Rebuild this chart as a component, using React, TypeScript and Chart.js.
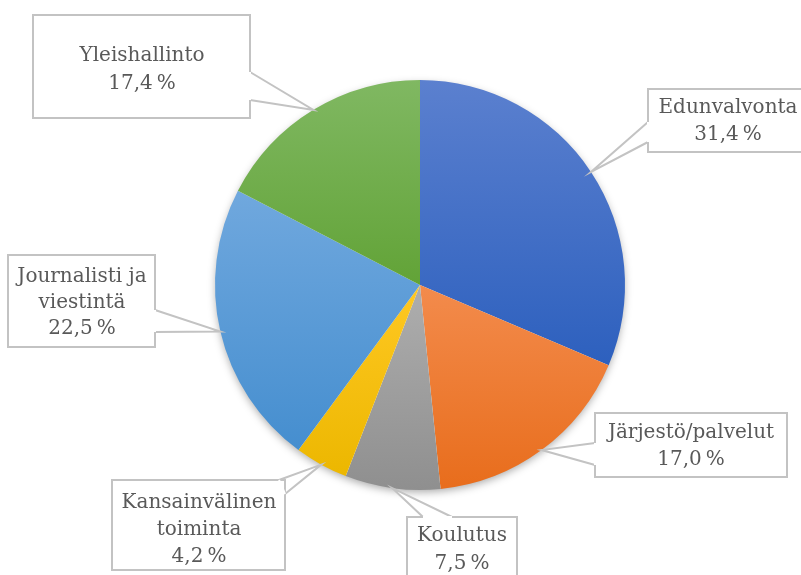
import React, { useEffect, useRef } from "react";
import { Chart, registerables } from "chart.js";

Chart.register(...registerables);

const categories = [
  "Edunvalvonta",
  "Järjestö/palvelut",
  "Koulutus",
  "Kansainvälinen toiminta",
  "Journalisti ja viestintä",
  "Yleishallinto",
];
const values = [31.4, 17.0, 7.5, 4.2, 22.5, 17.4];
const nameLines = [
  ["Edunvalvonta"],
  ["Järjestö/palvelut"],
  ["Koulutus"],
  ["Kansainvälinen", "toiminta"],
  ["Journalisti ja", "viestintä"],
  ["Yleishallinto"],
];
const topColors = ["#5B80CF", "#F38B4C", "#AEAEAE", "#FFC823", "#70A8DE", "#80B862"];
const bottomColors = ["#2D60BE", "#E86D1C", "#8F8F8F", "#ECB700", "#458ECF", "#62A337"];

// callout box layout (positions only)
const callouts = [
  { x: 648, y: 89, w: 165, h: 63, b1: [648, 122], b2: [648, 142], tx: 728, ty: 108, lh: 27 },
  { x: 595, y: 413, w: 192, h: 64, b1: [595, 443], b2: [595, 465], tx: 691, ty: 433, lh: 27 },
  { x: 407, y: 517, w: 110, h: 70, b1: [423, 517], b2: [452, 517], tx: 462, ty: 536, lh: 28 },
  { x: 112, y: 480, w: 173, h: 90, b1: [279, 480], b2: [285, 494], tx: 199, ty: 503, lh: 27 },
  { x: 8, y: 255, w: 147, h: 92, b1: [155, 310], b2: [155, 332], tx: 82, ty: 277, lh: 26 },
  { x: 33, y: 15, w: 217, h: 103, b1: [250, 72], b2: [250, 100], tx: 142, ty: 56, lh: 28 },
];

const fmt = (v: number) => v.toFixed(1).replace(".", ",") + "\u202F%";

function sliceGradient(c: any) {
  const i = c.dataIndex;
  if (i === undefined) return topColors[0];
  const chart = c.chart;
  const area = chart.chartArea;
  if (!area) return topColors[i];
  const cx = (area.left + area.right) / 2;
  const cy = (area.top + area.bottom) / 2;
  const r = Math.min(area.width, area.height) / 2;
  const total = values.reduce((a, b) => a + b, 0);
  let cum = 0;
  for (let k = 0; k < i; k++) cum += values[k];
  const a0 = -Math.PI / 2 + (cum / total) * 2 * Math.PI;
  const a1 = a0 + (values[i] / total) * 2 * Math.PI;
  let ymin = cy, ymax = cy;
  const steps = 60;
  for (let s = 0; s <= steps; s++) {
    const a = a0 + ((a1 - a0) * s) / steps;
    const y = cy + r * Math.sin(a);
    ymin = Math.min(ymin, y);
    ymax = Math.max(ymax, y);
  }
  const g = chart.ctx.createLinearGradient(0, ymin, 0, ymax);
  g.addColorStop(0, topColors[i]);
  g.addColorStop(1, bottomColors[i]);
  return g;
}

const shadowPlugin = {
  id: "pieShadow",
  beforeDatasetsDraw(chart: any) {
    const meta = chart.getDatasetMeta(0);
    const arc = meta.data[0];
    if (!arc) return;
    const ctx = chart.ctx;
    ctx.save();
    ctx.shadowColor = "rgba(0,0,0,0.35)";
    ctx.shadowBlur = 9;
    ctx.shadowOffsetY = 3;
    ctx.beginPath();
    ctx.arc(arc.x, arc.y, arc.outerRadius - 1, 0, Math.PI * 2);
    ctx.fillStyle = "#ffffff";
    ctx.fill();
    ctx.restore();
  },
};

const calloutPlugin = {
  id: "callouts",
  afterDatasetsDraw(chart: any) {
    const meta = chart.getDatasetMeta(0);
    const ctx = chart.ctx;
    meta.data.forEach((arc: any, i: number) => {
      const c = callouts[i];
      const mid = (arc.startAngle + arc.endAngle) / 2;
      const tipX = arc.x + Math.cos(mid) * arc.outerRadius;
      const tipY = arc.y + Math.sin(mid) * arc.outerRadius;
      ctx.save();
      ctx.fillStyle = "#ffffff";
      ctx.fillRect(c.x, c.y, c.w, c.h);
      ctx.beginPath();
      ctx.moveTo(c.b1[0], c.b1[1]);
      ctx.lineTo(tipX, tipY);
      ctx.lineTo(c.b2[0], c.b2[1]);
      ctx.closePath();
      ctx.fill();
      ctx.strokeStyle = "#C3C3C3";
      ctx.lineWidth = 2;
      ctx.strokeRect(c.x, c.y, c.w, c.h);
      ctx.beginPath();
      ctx.moveTo(c.b1[0], c.b1[1]);
      ctx.lineTo(tipX, tipY);
      ctx.lineTo(c.b2[0], c.b2[1]);
      ctx.stroke();
      ctx.beginPath();
      ctx.moveTo(c.b1[0], c.b1[1]);
      ctx.lineTo(c.b2[0], c.b2[1]);
      ctx.strokeStyle = "#ffffff";
      ctx.lineWidth = 2;
      ctx.stroke();
      ctx.fillStyle = "#595959";
      ctx.font = "20px 'DejaVu Serif'";
      ctx.textAlign = "center";
      ctx.textBaseline = "middle";
      const lines = [...nameLines[i], fmt(values[i])];
      lines.forEach((t, k) => ctx.fillText(t, c.tx, c.ty + k * c.lh));
      ctx.restore();
    });
  },
};

export default function App() {
  const ref = useRef<HTMLCanvasElement>(null);
  useEffect(() => {
    if (!ref.current) return;
    const chart = new Chart(ref.current, {
      type: "pie",
      data: {
        labels: categories,
        datasets: [
          {
            data: values,
            backgroundColor: sliceGradient as any,
            borderWidth: 0,
          },
        ],
      },
      options: {
        responsive: false,
        animation: false,
        layout: { padding: { top: 80, bottom: 85, left: 215, right: 176 } },
        plugins: {
          legend: { display: false },
          tooltip: { enabled: false },
        },
      },
      plugins: [shadowPlugin, calloutPlugin],
    });
    return () => chart.destroy();
  }, []);
  return (
    <div style={{ position: "fixed", left: 0, top: 0, width: 801, height: 575, background: "#fff" }}>
      <canvas ref={ref} width={801} height={575} />
    </div>
  );
}
